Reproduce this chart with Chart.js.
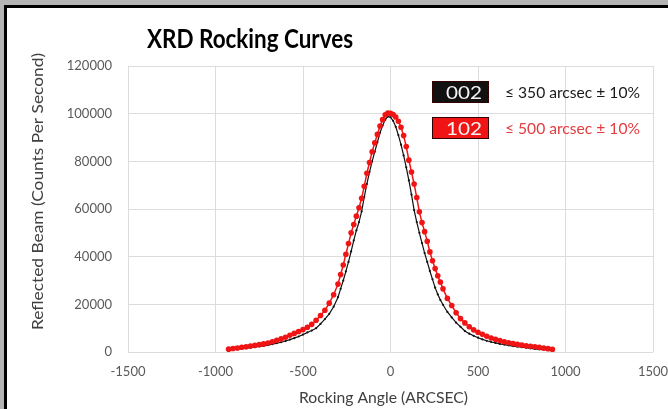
<!DOCTYPE html>
<html>
<head>
<meta charset="utf-8">
<title>XRD Rocking Curves</title>
<script src="https://cdn.jsdelivr.net/npm/chart.js@4.4.1/dist/chart.umd.min.js"></script>
<style>
  html, body { margin: 0; padding: 0; }
  body { width: 668px; height: 409px; background: #b4b4b4; position: relative; overflow: hidden; }
  /* Slide frame: grey surround with a black edge on the top and left. */
  #frame { position: absolute; left: 4px; top: 5px; right: 0; bottom: 0; background: #fff;
           border-left: 3px solid #000; border-top: 3px solid #000; }
  #wrap { position: absolute; left: 0; top: 0; width: 668px; height: 409px; }
</style>
</head>
<body>
<div id="frame"></div>
<div id="wrap"><canvas id="chart" width="668" height="409"></canvas></div>
<script>
// Texts
var chartTitle = 'XRD Rocking Curves';
var xTitle = 'Rocking Angle (ARCSEC)';
var yTitle = 'Reflected Beam (Counts Per Second)';
var seriesNames = ['002', '102'];
var seriesNotes = ['\u2264 350 arcsec \u00b1 10%', '\u2264 500 arcsec \u00b1 10%'];

var angles = [
  -925, -900, -875, -850, -825, -800, -775, -750, -725, -700, -675, -650, -625,
  -600, -575, -550, -525, -500, -475, -450, -425, -400, -375, -350, -325,
  -300, -285, -270, -255, -240, -225, -210, -195, -180, -165, -150, -135, -120,
  -105, -90, -75, -60, -45, -30, -15, 0, 15, 30, 45, 60, 75, 90, 105, 120,
  135, 150, 165, 180, 195, 210, 225, 240, 255, 270, 285, 300,
  325, 350, 375, 400, 425, 450, 475, 500, 525, 550, 575, 600, 625,
  650, 675, 700, 725, 750, 775, 800, 825, 850, 875, 900, 925
];

// 002 reflection (black)
var counts002 = [
  900, 1100, 1200, 1400, 1600, 1800, 2000, 2300, 2600, 2900, 3300, 3700, 4100,
  4600, 5200, 5800, 6500, 7300, 8200, 9000, 10000, 11800, 13800, 16000, 19000,
  23000, 26500, 30000, 33800, 37800, 42200, 46800, 51000, 54500, 59000, 65000, 70500, 75500,
  80000, 84000, 88000, 92000, 95000, 97500, 98800, 98500, 97000, 94500, 91000, 87000, 82500, 77500, 72000, 66000,
  59500, 54500, 50000, 45700, 41500, 37800, 34000, 30500, 27000, 24200, 21800, 19800,
  16800, 14500, 12300, 10600, 8800, 7700, 6800, 6000, 5300, 4700, 4200, 3800, 3400,
  3100, 2800, 2500, 2200, 2000, 1800, 1500, 1300, 1100, 1000, 900, 800
];

// 102 reflection (red)
var counts102 = [
  1200, 1500, 1700, 2000, 2200, 2500, 2800, 3100, 3400, 3800, 4300, 4900, 5500,
  6200, 7000, 7800, 8600, 9400, 10400, 11600, 13300, 15300, 17500, 20500, 24000,
  28500, 32500, 36500, 41000, 45500, 50000, 53500, 57000, 60500, 64500, 69500, 75000, 79500,
  84000, 87800, 91300, 94800, 97500, 99500, 100300, 100200, 99600, 98600, 96800, 94300, 90800, 86200, 80500, 75500,
  70500, 64800, 58800, 54300, 50500, 46500, 42000, 38300, 35000, 32000, 29300, 26500,
  22500, 19500, 16500, 14000, 12200, 10600, 9300, 8300, 7400, 6600, 5900, 5300, 4800,
  4300, 3900, 3500, 3200, 2900, 2600, 2400, 2200, 2000, 1700, 1400, 1100
];

var colors = ['#111111', '#f01414'];
var noteColors = ['#1a1a1a', '#e33b40'];

function toPoints(values) {
  return values.map(function (v, i) {
    return { x: angles[i], y: v };
  });
}

// Draw a text squeezed or stretched to a given width, left edge at x.
function drawFitted(ctx, text, x, y, width, font, color) {
  ctx.font = font;
  var w = ctx.measureText(text).width;
  ctx.save();
  ctx.translate(x, y);
  ctx.scale(width / w, 1);
  ctx.fillStyle = color;
  ctx.textAlign = 'left';
  ctx.textBaseline = 'alphabetic';
  ctx.fillText(text, 0, 0);
  ctx.restore();
}

// Title, axis titles and the boxed legend of the slide.
var slideTexts = {
  id: 'slideTexts',
  afterDraw: function (chart) {
    var ctx = chart.ctx;

    drawFitted(ctx, chartTitle, 147, 48, 206, 'bold 27px Lato', '#000');
    drawFitted(ctx, xTitle, 299, 403, 169, '16px Lato', '#404040');

    ctx.save();
    ctx.translate(43, 330);
    ctx.rotate(-Math.PI / 2);
    drawFitted(ctx, yTitle, 0, 0, 277, '15px Lato', '#404040');
    ctx.restore();

    var boxTops = [81, 117];
    for (var i = 0; i < seriesNames.length; i++) {
      ctx.save();
      ctx.fillStyle = colors[i];
      ctx.fillRect(432, boxTops[i], 57, 22);
      ctx.strokeStyle = '#300';
      ctx.lineWidth = 1;
      ctx.strokeRect(432.5, boxTops[i] + 0.5, 56, 21);
      ctx.restore();
      drawFitted(ctx, seriesNames[i], 446, boxTops[i] + 18, 36, '18px Lato', '#f4f4f4');
      drawFitted(ctx, seriesNotes[i], 505, boxTops[i] + 17, 135, '16px Lato', noteColors[i]);
    }
  }
};

Chart.defaults.font.family = 'Lato';

new Chart(document.getElementById('chart'), {
  type: 'line',
  data: {
    datasets: [
      {
        label: seriesNames[1],
        data: toPoints(counts102),
        borderColor: colors[1],
        backgroundColor: colors[1],
        borderWidth: 1.5,
        pointRadius: 2.8,
        pointBorderWidth: 0,
        tension: 0,
        order: 0,
      },
      {
        label: seriesNames[0],
        data: toPoints(counts002),
        borderColor: colors[0],
        backgroundColor: colors[0],
        borderWidth: 1.2,
        pointRadius: 1.1,
        pointBorderWidth: 0,
        tension: 0,
        order: 1,
      },
    ],
  },
  options: {
    responsive: false,
    animation: false,
    layout: { padding: { top: 66, right: 15, left: 0, bottom: 0 } },
    plugins: {
      legend: { display: false },
      tooltip: { enabled: false },
      title: { display: false },
    },
    scales: {
      x: {
        type: 'linear',
        min: -1500,
        max: 1500,
        afterFit: function (scale) {
          scale.height = 57;
          scale.paddingLeft = 0;
          scale.paddingRight = 0;
        },
        ticks: {
          stepSize: 500,
          padding: 12,
          color: '#595959',
          font: { size: 13 },
          maxRotation: 0,
          callback: function (v) { return String(v); },
        },
        grid: { color: '#dcdcdc', drawTicks: false },
        border: { display: false },
      },
      y: {
        min: 0,
        max: 120000,
        afterFit: function (scale) {
          scale.width = 128;
        },
        ticks: {
          stepSize: 20000,
          padding: 16,
          color: '#595959',
          font: { size: 13 },
          callback: function (v) { return String(v); },
        },
        grid: { color: '#dcdcdc', drawTicks: false },
        border: { display: false },
      },
    },
  },
  plugins: [slideTexts],
});
</script>
</body>
</html>
